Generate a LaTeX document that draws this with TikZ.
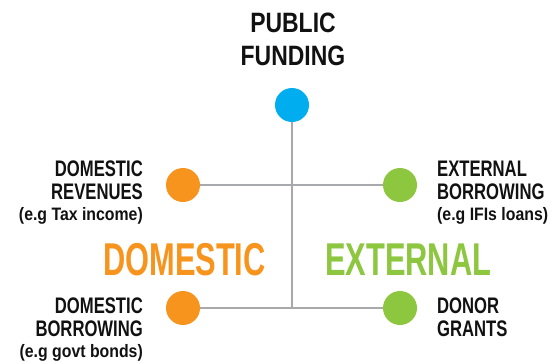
\documentclass[tikz,border=0pt]{standalone}
\usepackage{fontspec}
\newfontfamily\titlefont[FakeStretch=0.82]{Liberation Sans Bold}
\newfontfamily\lblfont[FakeStretch=0.74]{Liberation Sans Bold}
\newfontfamily\subfont[FakeStretch=0.88]{Liberation Sans Bold}
\newfontfamily\bigfont[FakeStretch=0.67]{Liberation Sans Bold}
\definecolor{cblue}{HTML}{00AEEF}
\definecolor{corange}{HTML}{F7941E}
\definecolor{cgreen}{HTML}{8DC63F}
\definecolor{cgray}{HTML}{A7A9AC}
\definecolor{ctext}{HTML}{111111}
\tikzset{
  dot/.style={circle, inner sep=0pt, minimum size=34pt, fill=#1},
  conn/.style={draw=cgray, line width=2.5pt},
  lbl/.style={inner sep=0pt, text=ctext, font=\fontsize{22.5}{23}\lblfont},
  sublbl/.style={inner sep=0pt, text=ctext, font=\fontsize{18}{22}\subfont},
  biglbl/.style={inner sep=0pt, font=\fontsize{46}{46}\bigfont},
}
\begin{document}
\begin{tikzpicture}[x=1pt, y=-1pt]
\useasboundingbox (0,0) rectangle (556,361);
% title
\node[inner sep=0pt, text=ctext, font=\fontsize{28}{33}\titlefont, align=center, anchor=base] (title) at (293,66) {PUBLIC\\FUNDING};
% circles
\node[dot=cblue] (pub) at (292,105) {};
\node[dot=corange] (dr) at (183,185) {};
\node[dot=cgreen] (eb) at (400,185) {};
\node[dot=corange] (db) at (183,308) {};
\node[dot=cgreen] (dg) at (400,308) {};
\coordinate (bottom) at (292,308);
% connectors
\draw[conn] (dr) -- (eb);
\draw[conn] (db) -- (dg);
\draw[conn] (pub) -- (bottom);
% labels
\node[lbl, align=right, anchor=base east] (drl) at (143,199) {DOMESTIC\\REVENUES};
\node[sublbl, anchor=base east] (drs) at (143,220) {(e.g Tax income)};
\node[lbl, align=left, anchor=base west] (ebl) at (437,199) {EXTERNAL\\BORROWING};
\node[sublbl, anchor=base west] (ebs) at (437,220) {(e.g IFIs loans)};
\node[lbl, align=right, anchor=base east] (dbl) at (143,336) {DOMESTIC\\BORROWING};
\node[sublbl, anchor=base east] (dbs) at (143,357) {(e.g govt bonds)};
\node[lbl, align=left, anchor=base west] (dgl) at (437,336) {DONOR\\GRANTS};
% big labels
\node[biglbl, text=corange, anchor=base east] (dom) at (266,275) {DOMESTIC};
\node[biglbl, text=cgreen, anchor=base west] (ext) at (325,275) {EXTERNAL};
\end{tikzpicture}
\end{document}
